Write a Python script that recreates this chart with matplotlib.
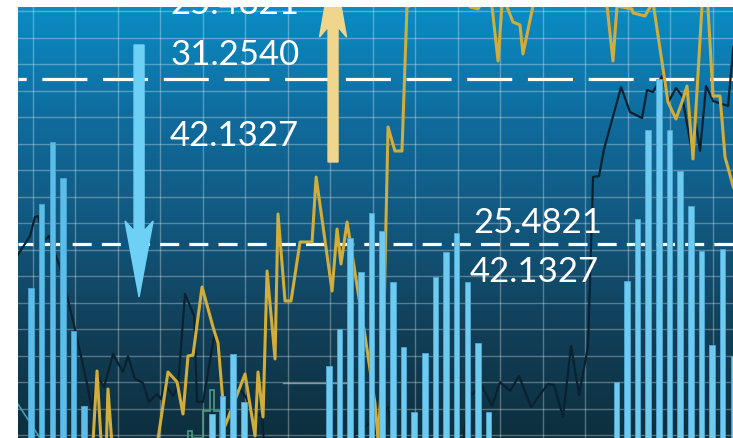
import numpy as np
import matplotlib
matplotlib.use("Agg")
import matplotlib.pyplot as plt
from matplotlib.colors import LinearSegmentedColormap

plt.rcParams['lines.scale_dashes'] = False

# volume bars (slot index -> height)
bar_slots = [0, 1, 2, 3, 4, 5, 17, 18, 19, 20, 28, 29, 30, 31, 32, 33, 34, 35, 36,
             37, 38, 39, 40, 41, 42, 43, 55, 56, 57, 58, 59, 60, 61, 62, 63, 64, 65, 66]
bar_values = [15.0, 23.4, 29.6, 26.0, 10.7, 3.2, 2.4, 4.2, 8.4, 3.6, 7.2, 10.9, 20.0,
              16.6, 22.5, 20.7, 15.6, 9.1, 2.6, 8.5, 16.1, 18.6, 20.5, 15.6, 9.5, 2.6,
              5.6, 15.7, 21.9, 30.8, 35.9, 30.8, 26.7, 23.2, 18.7, 9.3, 18.9, 8.2]

# dark price line
dark_x = [-1.3, -0.10, 0.37, 0.65, 1.22, 1.69, 1.97, 2.72, 4.13, 5.07, 5.73, 6.20, 6.86,
          7.70, 8.64, 9.11, 9.77, 10.52, 11.08, 11.84, 12.21, 12.59, 13.34, 13.81, 14.47,
          15.32, 15.60, 16.16, 17.29, 17.76, 18.42, 19.45, 20.30, 20.86, 21.71, 21.99,
          29.51, 30.26, 32.32, 32.61, 33.55, 34.21, 40.32, 41.26, 42.39, 43.33, 44.08,
          45.02, 45.86, 46.99, 48.02, 48.59, 49.15, 49.99, 50.75, 51.50, 52.35, 52.82,
          53.38, 53.85, 55.45, 56.29, 57.42, 57.89, 58.45, 59.30, 59.96, 60.61, 61.18,
          62.12, 62.50, 62.87, 63.44, 64.10, 65.51, 66.0]
dark_y = [18.2, 20.2, 22.1, 22.2, 19.7, 20.2, 19.2, 17.1, 10.9, 6.4, 2.9, 6.3, 5.1,
          8.4, 6.6, 8.2, 5.9, 5.5, 3.6, 4.4, 3.9, 5.4, 4.2, 5.1, 14.4,
          12.2, 3.6, 3.6, 10.7, 6.9, 1.6, 5.2, 3.9, 2.6, 2.2, -2.1,
          -2.1, 0.2, 1.9, 1.4, 3.1, -2.1, -2.1, 4.2, 5.2, 3.2, 5.6,
          4.7, 6.2, 3.1, 4.6, 5.4, 5.3, 2.1, 9.2, 4.3, 9.2, 26.1,
          26.2, 28.9, 35.1, 32.6, 32.0, 34.8, 34.6, 36.2, 33.7, 35.0, 34.2,
          28.6, 31.4, 28.7, 35.2, 33.7, 33.2, 39.1]

# gold price line
gold_x = [5.73, 6.20, 6.67, 7.04, 7.23, 7.70, 11.65, 12.87, 13.72, 14.28, 14.75, 15.22,
          16.07, 17.10, 17.57, 18.23, 20.11, 21.05, 21.33, 21.80, 22.18, 22.93, 23.21,
          23.87, 24.43, 25.28, 26.41, 26.79, 28.29, 28.76, 29.13, 29.70, 30.64, 31.39,
          32.33, 32.61, 33.08, 33.55, 34.20, 34.86, 35.33, 35.80, 36.55, 40.79, 41.26,
          42.01, 43.14, 43.89, 44.36, 44.74, 45.29, 45.95, 46.23, 47.17, 48.30, 53.48,
          54.13, 54.69, 55.07, 56.48, 56.58, 57.70, 58.45, 59.86, 60.61, 61.18, 61.65,
          62.21, 63.15, 63.52, 64.09, 64.75, 65.22, 66.0]
gold_y = [-2.1, 6.7, -2.1, -2.1, 4.9, -2.1, -2.1, 6.6, 5.6, 2.4, 8.2, 8.3,
          15.1, 11.1, 9.5, 1.2, 6.4, 0.2, 6.6, 2.1, 16.7, 7.9, 22.4,
          13.7, 13.7, 19.6, 19.6, 26.1, 14.7, 20.9, 17.4, 21.6, 15.2, 10.2,
          3.4, -0.1, 7.9, 31.1, 28.7, 28.7, 43.1, 43.3, 45.9, 45.9, 43.1,
          42.9, 44.9, 37.7, 44.9, 43.1, 41.6, 41.3, 38.4, 43.2, 45.9, 45.9,
          43.2, 37.7, 43.2, 42.9, 42.5, 42.2, 43.6, 33.6, 31.9, 33.6, 35.2,
          27.9, 44.9, 44.9, 34.2, 34.2, 28.1, 25.1]

# small green step series
step_edges = [14.75, 15.13, 16.16, 16.82, 17.20, 17.76]
step_values = [0.7, 0.0, 2.7, 4.8, 2.7]

levels = [35.9, 19.4]
labels_left = ["25.4821", "31.2540", "42.1327"]
labels_right = ["25.4821", "42.1327"]

xmin, xmax = -1.227, 65.97
ymax = 43.1

fig = plt.figure(figsize=(7.33, 4.39), dpi=100)
ax = fig.add_axes([18 / 733, 0, 715 / 733, 431 / 439])

# background gradient
cmap = LinearSegmentedColormap.from_list(
    "bg", [(0, "#0d2f3e"), (0.25, "#113f58"), (0.5, "#12587f"),
           (0.75, "#0f6c9e"), (1.0, "#0a8cc4")])
grad = np.linspace(0, 1, 256).reshape(-1, 1)
ax.imshow(grad, extent=[xmin, xmax, 0, ymax], origin="lower", aspect="auto",
          cmap=cmap, zorder=0)

ax.set_xticks(0.18 + 3.994 * np.arange(17))
ax.set_yticks(42.67 - 2.65 * np.arange(17))
ax.grid(True, color="white", alpha=0.3, linewidth=1)
ax.tick_params(length=0, labelbottom=False, labelleft=False)
for s in ax.spines.values():
    s.set_visible(False)

# dashed reference levels
ax.axhline(levels[0], color="white", linewidth=2.3,
           linestyle=(26.5, (32.4, 11.3)), dash_capstyle="butt", zorder=2)
ax.axhline(levels[1], color="white", linewidth=2.3,
           linestyle=(3.0, (13.7, 7.3)), dash_capstyle="butt", zorder=2)

ax.plot([-1.3, 0.9], [3.5, -0.1], color="#3d9dbd", linewidth=1.2, zorder=3)
ax.plot([23.68, 29.7], [5.5, 5.5], color="#c9d6d6", alpha=0.6, linewidth=1, zorder=3)
ax.stairs(step_values, step_edges, baseline=0, fill=False,
          color="#4f9c80", linewidth=1.2, zorder=3)

ax.plot(dark_x, dark_y, color="#0a2230", linewidth=1.6, zorder=4)
ax.plot(gold_x, gold_y, color="#d1ad3c", linewidth=2.2, zorder=4)

ax.bar(bar_slots[:6], bar_values[:6], width=0.52, color="#5dbde9",
       edgecolor="#4aa6d3", linewidth=0.6, zorder=5)
ax.bar(bar_slots[6:], bar_values[6:], width=0.52, color="#6ecbef",
       edgecolor="#4fa9d6", linewidth=0.6, zorder=5)

# arrows
ax.fill([9.68, 9.68, 8.83, 10.15, 11.47, 10.62, 10.62],
        [39.3, 20.7, 21.7, 14.1, 21.7, 20.7, 39.3], color="#6fd0f5", zorder=6)
ax.fill([27.91, 27.91, 27.11, 28.38, 29.65, 28.85, 28.85],
        [27.6, 41.1, 40.1, 47.7, 40.1, 41.1, 27.6], color="#f0d58c", zorder=6)

font = ["Lato", "Liberation Sans", "DejaVu Sans"]
for lab, y in zip(labels_left, [42.5, 37.4, 29.3]):
    ax.text(13.07, y, lab, color="white", fontsize=25, family=font,
            ha="left", va="baseline", zorder=7, clip_on=True)
for lab, x, y in zip(labels_right, [41.54, 41.25], [20.6, 15.7]):
    ax.text(x, y, lab, color="white", fontsize=25, family=font,
            ha="left", va="baseline", zorder=7, clip_on=True)

ax.set_xlim(xmin, xmax)
ax.set_ylim(0, ymax)

fig.savefig("out.png", dpi=100)
